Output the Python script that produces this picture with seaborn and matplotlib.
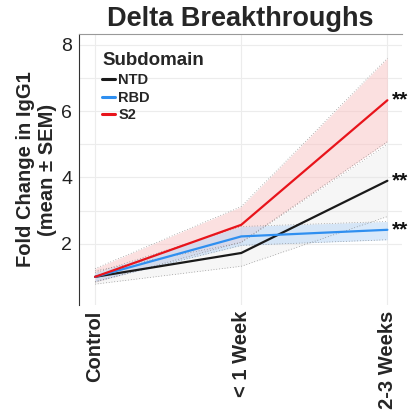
import matplotlib
matplotlib.use("Agg")
import matplotlib.pyplot as plt
import seaborn as sns
import pandas as pd
import numpy as np

timepoints = ["Control", "< 1 Week", "2-3 Weeks"]
subdomains = ["NTD", "RBD", "S2"]
ntd_mean = [1.0, 1.72, 3.90]
ntd_low = [0.78, 1.32, 2.82]
ntd_high = [1.18, 2.03, 5.00]
rbd_mean = [1.0, 2.22, 2.42]
rbd_low = [0.86, 1.95, 2.12]
rbd_high = [1.12, 2.52, 2.67]
s2_mean = [1.0, 2.57, 6.33]
s2_low = [0.84, 2.05, 5.08]
s2_high = [1.25, 3.12, 7.60]
stars = ["**", "**", "**"]
palette = {"NTD": "#1a1a1a", "RBD": "#2f8ff0", "S2": "#e8141b"}
band_colors = {"NTD": "#e6e6e6", "RBD": "#b5d5f7", "S2": "#f9c2c2"}
band_alpha = {"NTD": 0.35, "RBD": 0.5, "S2": 0.5}

sns.set_theme(style="white")
plt.rcParams["font.family"] = ["Liberation Sans", "DejaVu Sans"]

means = {"NTD": ntd_mean, "RBD": rbd_mean, "S2": s2_mean}
lows = {"NTD": ntd_low, "RBD": rbd_low, "S2": s2_low}
highs = {"NTD": ntd_high, "RBD": rbd_high, "S2": s2_high}

rows = []
for s in subdomains:
    for i, t in enumerate(timepoints):
        rows.append({"Time": i, "Subdomain": s, "Fold": means[s][i]})
df = pd.DataFrame(rows)

fig = plt.figure(figsize=(4.12, 4.15), dpi=100)
ax = fig.add_axes([79/412, 1-305/415, (402-79)/412, (305-34)/415])

x = np.arange(len(timepoints))
for s in ["S2", "NTD", "RBD"]:
    ax.fill_between(x, lows[s], highs[s], color=band_colors[s], alpha=band_alpha[s], lw=0, zorder=1)
    ax.plot(x, lows[s], color="#777777", lw=0.5, ls=(0, (1, 3)), zorder=1.5)
    ax.plot(x, highs[s], color="#777777", lw=0.5, ls=(0, (1, 3)), zorder=1.5)

sns.lineplot(data=df, x="Time", y="Fold", hue="Subdomain", hue_order=subdomains,
             palette=palette, lw=1.6, ax=ax, zorder=3)

for s, st in zip(subdomains, stars):
    ax.text(2.03, means[s][2], st, fontsize=15, fontweight="bold", va="center",
            ha="left", clip_on=False, color="#111111")

ax.set_xlim(-0.11, 2.1)
ax.set_ylim(0.15, 8.33)
ax.set_xticks(x)
ax.set_xticklabels(timepoints, rotation=90, fontsize=14.5, fontweight="bold")
ax.set_yticks([2, 4, 6, 8])
ax.set_yticks([3, 5, 7], minor=True)
ax.tick_params(axis="y", labelsize=14, length=0, pad=5, colors="#222222")
ax.tick_params(axis="x", length=0, pad=4)
ax.grid(True, which="major", color="#ececec", lw=0.8)
ax.grid(True, which="minor", axis="y", color="#ececec", lw=0.8)
ax.set_axisbelow(True)
ax.set_xlabel("")
ax.set_ylabel("Fold Change in IgG1\n(mean ± SEM)", fontsize=14.5, fontweight="bold", labelpad=3)
ax.set_title("Delta Breakthroughs", fontsize=19.5, fontweight="bold", pad=6)

for side in ["right", "bottom"]:
    ax.spines[side].set_visible(False)
ax.spines["left"].set_color("#333333")
ax.spines["left"].set_linewidth(0.8)
ax.spines["top"].set_color("#999999")
ax.spines["top"].set_linewidth(0.8)

leg = ax.legend(title="Subdomain", loc="upper left", frameon=False, fontsize=10.5,
                title_fontsize=13.5, handlelength=0.9, handletextpad=0.2,
                labelspacing=0.25, borderaxespad=0.3, bbox_to_anchor=(0.04, 0.97))
leg.get_title().set_fontweight("bold")
leg._legend_box.align = "left"
for t in leg.get_texts():
    t.set_fontweight("bold")
for l in leg.get_lines():
    l.set_linewidth(2.2)

fig.savefig("out.png", dpi=100)
